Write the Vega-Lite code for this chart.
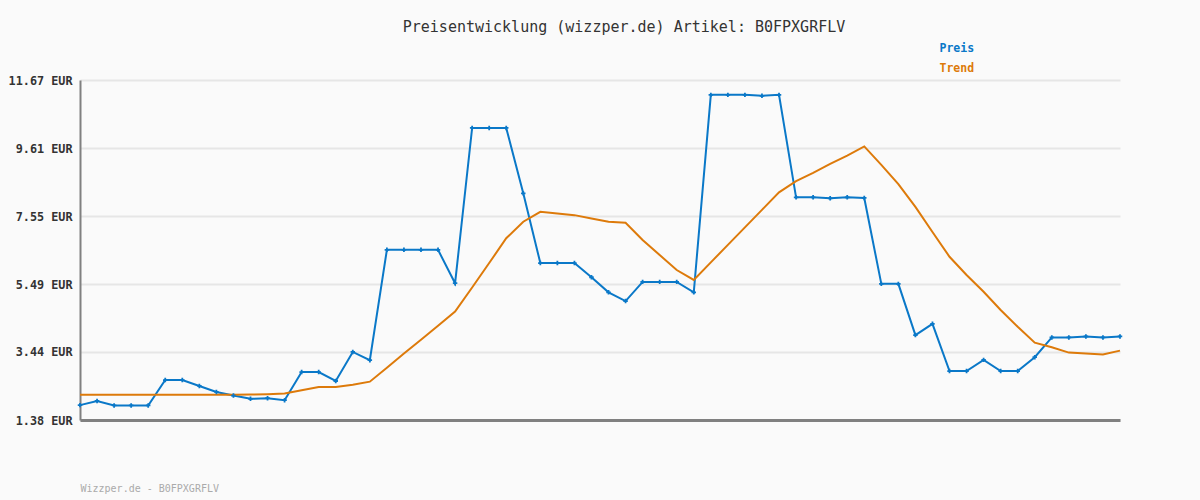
{
  "$schema": "https://vega.github.io/schema/vega-lite/v6.json",
  "width": 1040,
  "height": 340,
  "autosize": {"type": "none"},
  "padding": {"left": 80, "top": 80, "right": 80, "bottom": 80},
  "background": "#fafafa",
  "title": {
    "text": "Preisentwicklung (wizzper.de) Artikel: B0FPXGRFLV",
    "anchor": "middle",
    "dx": 24,
    "offset": -4,
    "baseline": "alphabetic",
    "font": "DejaVu Sans Mono",
    "fontSize": 15,
    "fontWeight": "normal",
    "color": "#333333"
  },
  "config": {
    "view": {"stroke": null},
    "font": "DejaVu Sans Mono"
  },
  "data": {
    "values": [
      {"i": 0, "Preis": 1.83, "Trend": 2.145},
      {"i": 1, "Preis": 1.955, "Trend": 2.145},
      {"i": 2, "Preis": 1.82, "Trend": 2.145},
      {"i": 3, "Preis": 1.82, "Trend": 2.145},
      {"i": 4, "Preis": 1.82, "Trend": 2.145},
      {"i": 5, "Preis": 2.59, "Trend": 2.145},
      {"i": 6, "Preis": 2.59, "Trend": 2.145},
      {"i": 7, "Preis": 2.41, "Trend": 2.145},
      {"i": 8, "Preis": 2.23, "Trend": 2.145},
      {"i": 9, "Preis": 2.12, "Trend": 2.145},
      {"i": 10, "Preis": 2.02, "Trend": 2.15},
      {"i": 11, "Preis": 2.04, "Trend": 2.16},
      {"i": 12, "Preis": 1.98, "Trend": 2.18},
      {"i": 13, "Preis": 2.83, "Trend": 2.28},
      {"i": 14, "Preis": 2.83, "Trend": 2.38},
      {"i": 15, "Preis": 2.56, "Trend": 2.38},
      {"i": 16, "Preis": 3.44, "Trend": 2.45},
      {"i": 17, "Preis": 3.19, "Trend": 2.54},
      {"i": 18, "Preis": 6.53, "Trend": 2.96},
      {"i": 19, "Preis": 6.53, "Trend": 3.39},
      {"i": 20, "Preis": 6.53, "Trend": 3.81},
      {"i": 21, "Preis": 6.53, "Trend": 4.23},
      {"i": 22, "Preis": 5.52, "Trend": 4.66},
      {"i": 23, "Preis": 10.22, "Trend": 5.39},
      {"i": 24, "Preis": 10.22, "Trend": 6.13},
      {"i": 25, "Preis": 10.22, "Trend": 6.88},
      {"i": 26, "Preis": 8.24, "Trend": 7.38},
      {"i": 27, "Preis": 6.13, "Trend": 7.68},
      {"i": 28, "Preis": 6.13, "Trend": 7.63},
      {"i": 29, "Preis": 6.13, "Trend": 7.58},
      {"i": 30, "Preis": 5.70, "Trend": 7.48},
      {"i": 31, "Preis": 5.245, "Trend": 7.38},
      {"i": 32, "Preis": 4.98, "Trend": 7.35},
      {"i": 33, "Preis": 5.56, "Trend": 6.83},
      {"i": 34, "Preis": 5.56, "Trend": 6.37},
      {"i": 35, "Preis": 5.56, "Trend": 5.92},
      {"i": 36, "Preis": 5.245, "Trend": 5.62},
      {"i": 37, "Preis": 11.22, "Trend": 6.15},
      {"i": 38, "Preis": 11.22, "Trend": 6.68},
      {"i": 39, "Preis": 11.22, "Trend": 7.21},
      {"i": 40, "Preis": 11.19, "Trend": 7.74},
      {"i": 41, "Preis": 11.22, "Trend": 8.27},
      {"i": 42, "Preis": 8.12, "Trend": 8.61},
      {"i": 43, "Preis": 8.12, "Trend": 8.86},
      {"i": 44, "Preis": 8.09, "Trend": 9.13},
      {"i": 45, "Preis": 8.12, "Trend": 9.38},
      {"i": 46, "Preis": 8.10, "Trend": 9.66},
      {"i": 47, "Preis": 5.50, "Trend": 9.10},
      {"i": 48, "Preis": 5.50, "Trend": 8.52},
      {"i": 49, "Preis": 3.95, "Trend": 7.83},
      {"i": 50, "Preis": 4.29, "Trend": 7.07},
      {"i": 51, "Preis": 2.86, "Trend": 6.32},
      {"i": 52, "Preis": 2.86, "Trend": 5.77},
      {"i": 53, "Preis": 3.20, "Trend": 5.26},
      {"i": 54, "Preis": 2.86, "Trend": 4.71},
      {"i": 55, "Preis": 2.86, "Trend": 4.20},
      {"i": 56, "Preis": 3.28, "Trend": 3.72},
      {"i": 57, "Preis": 3.88, "Trend": 3.58},
      {"i": 58, "Preis": 3.88, "Trend": 3.42},
      {"i": 59, "Preis": 3.91, "Trend": 3.39},
      {"i": 60, "Preis": 3.88, "Trend": 3.36},
      {"i": 61, "Preis": 3.91, "Trend": 3.48}
    ]
  },
  "encoding": {
    "x": {
      "field": "i",
      "type": "quantitative",
      "scale": {"domain": [0, 61], "nice": false, "zero": false},
      "axis": {
        "title": "Wizzper.de - B0FPXGRFLV",
        "titleAnchor": "start",
        "titleAlign": "left",
        "titleBaseline": "alphabetic",
        "titleY": 71,
        "titleX": 0,
        "titleFont": "DejaVu Sans Mono",
        "titleFontSize": 10,
        "titleFontWeight": "normal",
        "titleColor": "#aaaaaa",
        "labels": false,
        "ticks": false,
        "grid": false,
        "domainColor": "#808080",
        "domainWidth": 3
      }
    }
  },
  "layer": [
    {
      "transform": [{"fold": ["Preis", "Trend"], "as": ["series", "value"]}],
      "mark": {"type": "line", "strokeWidth": 2, "interpolate": "linear"},
      "encoding": {
        "y": {
          "field": "value",
          "type": "quantitative",
          "scale": {"domain": [1.38, 11.67], "nice": false, "zero": false},
          "axis": {
            "title": null,
            "values": [1.38, 3.44, 5.49, 7.55, 9.61, 11.67],
            "labelExpr": "format(datum.value, '.2f') + ' EUR'",
            "labelFont": "DejaVu Sans Mono",
            "labelFontSize": 11.8,
            "labelFontWeight": "bold",
            "labelColor": "#333333",
            "labelPadding": 8,
            "ticks": false,
            "grid": true,
            "gridColor": "#e6e6e6",
            "gridWidth": 2,
            "domainColor": "#808080",
            "domainWidth": 2
          }
        },
        "color": {
          "field": "series",
          "type": "nominal",
          "scale": {"domain": ["Preis", "Trend"], "range": ["#0a78c8", "#dd7a0a"]},
          "legend": {
            "title": null,
            "orient": "none",
            "legendX": 848,
            "legendY": -37,
            "symbolSize": 0,
            "symbolOpacity": 0,
            "symbolStrokeWidth": 0,
            "labelOffset": 0,
            "labelFont": "DejaVu Sans Mono",
            "labelFontSize": 11.5,
            "labelFontWeight": "bold",
            "rowPadding": 7,
            "encode": {
              "labels": {"update": {"fill": {"scale": "color", "field": "value"}}}
            }
          }
        }
      }
    },
    {
      "mark": {"type": "point", "shape": "cross", "filled": true, "size": 20, "color": "#0a78c8", "opacity": 1},
      "encoding": {
        "y": {"field": "Preis", "type": "quantitative"}
      }
    }
  ]
}
